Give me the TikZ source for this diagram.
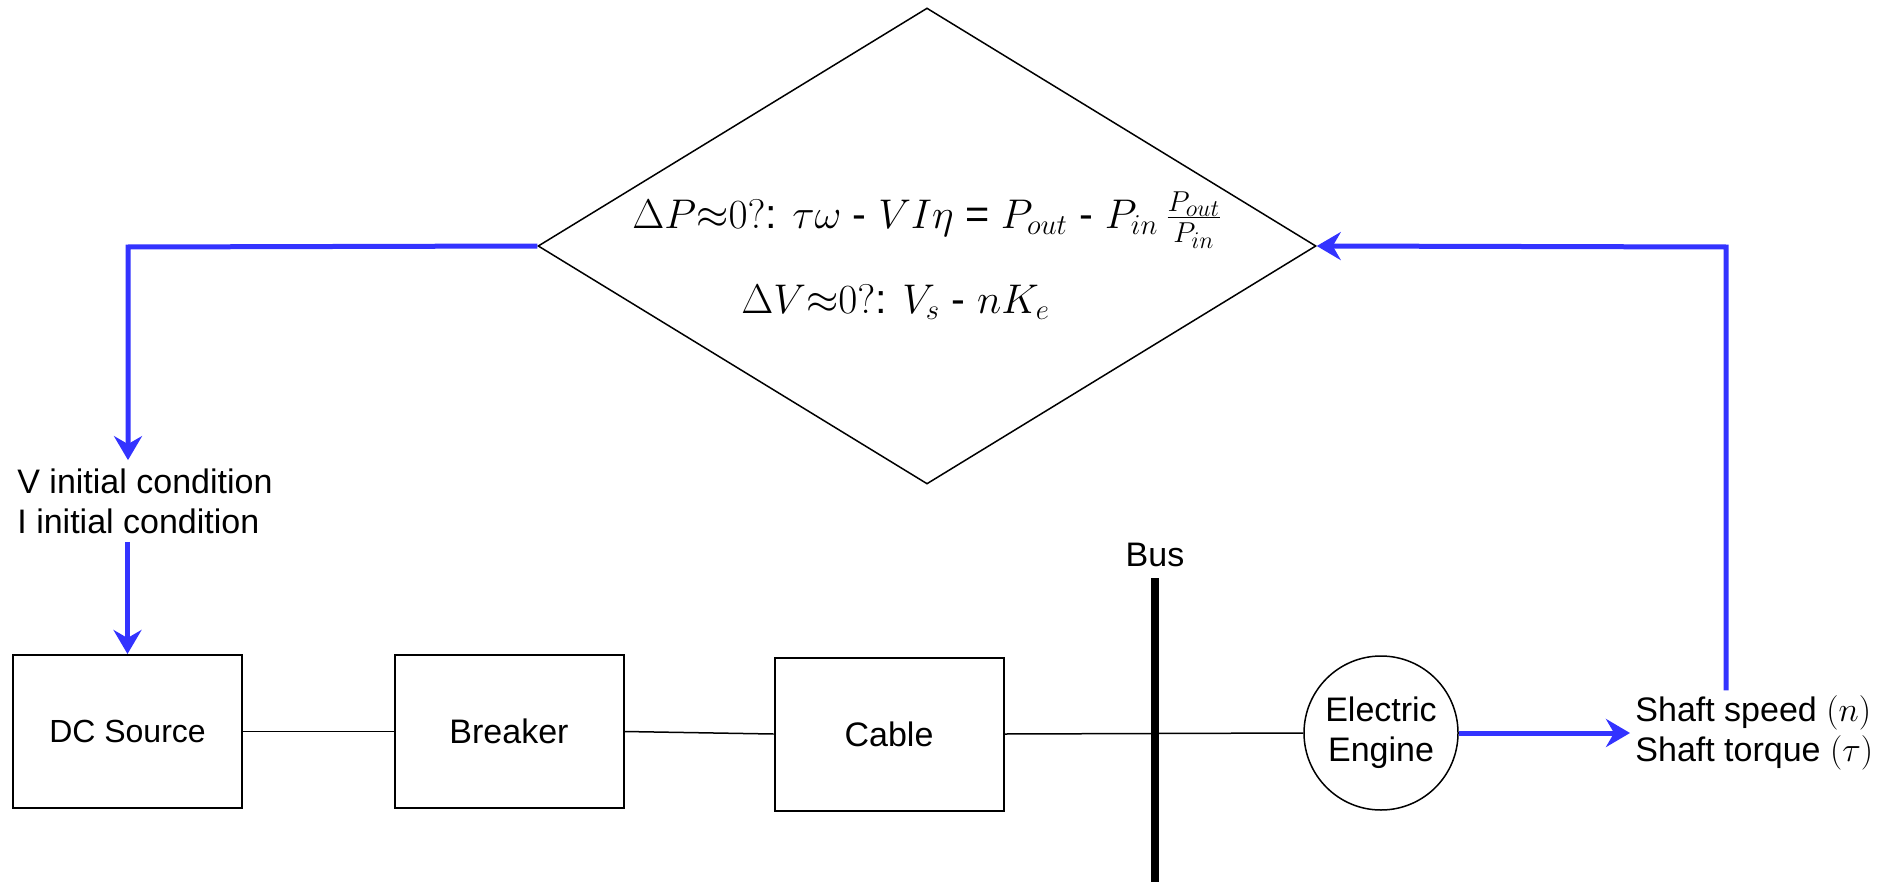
\documentclass[tikz,border=0pt]{standalone}
\usepackage{fontspec}
\usetikzlibrary{arrows.meta,shapes.geometric}
\newfontfamily\arialfont{Liberation Sans}
\definecolor{flowblue}{RGB}{51,51,255}
\tikzset{
  decision/.style={diamond, draw, line width=0.75pt, minimum width=389pt, minimum height=238pt, inner sep=0pt},
  eqtext/.style={inner sep=0pt, font=\arialfont\fontsize{20.74}{25}\selectfont},
  label17/.style={inner sep=4pt, align=left, font=\arialfont\fontsize{17}{20}\selectfont},
  blockbox/.style={draw, line width=1pt, minimum width=114.5pt, minimum height=76.5pt, inner sep=0pt, font=\arialfont\fontsize{17}{20}\selectfont},
  engine/.style={circle, draw, line width=0.75pt, minimum size=77pt, inner sep=0pt, align=center, font=\arialfont\fontsize{17}{20}\selectfont},
  wire/.style={line width=0.75pt},
  busbar/.style={line width=4pt},
  flow/.style={draw=flowblue, line width=2.5pt, -{Stealth[length=12pt,width=14pt,inset=4pt]}}
}
\begin{document}
\begin{tikzpicture}[x=0.5pt,y=-0.5pt]
\useasboundingbox (0,0) rectangle (1893,882);
% decision
\node[decision] (dec) at (927,246) {};
\node[eqtext, anchor=base west] (eq1) at (632,228) {$\Delta P{\approx}0?$: $\tau\omega$ - $VI\eta$ = $P_{out}$ - $P_{in}\,\frac{P_{out}}{P_{in}}$};
\node[eqtext, anchor=base west] (eq2) at (741,313) {$\Delta V{\approx}0?$: $V_s$ - $nK_e$};
% initial condition label
\node[label17, anchor=west] (init) at (9,501) {V initial condition\\I initial condition};
% blocks
\node[blockbox, font=\arialfont\fontsize{16}{20}\selectfont] (dc) at (127.5,731.5) {DC Source};
\node[blockbox] (brk) at (509,731.5) {Breaker};
\node[blockbox] (cab) at (889,734) {Cable};
% bus
\coordinate (bustop) at (1155,578);
\coordinate (busbot) at (1155,882);
\node[label17, inner sep=0pt] (buslbl) at (1155,555) {Bus};
% engine
\node[engine] (eng) at (1381,733) {Electric\\Engine};
% shaft output
\node[label17, inner sep=2.5pt, anchor=west] (shaft) at (1630,733) {Shaft speed $(n)$\\Shaft torque $(\tau)$};
% wires
\draw[busbar] (bustop) -- (busbot);
\draw[wire] (dc.east) -- (brk.west);
\draw[wire] (brk.east) -- (cab.west);
\draw[wire] (cab.east) -- (eng.west);
% flows
\coordinate (lc) at (128,247);
\draw[flow] (dec.west) -- (lc) -- (lc |- init.north);
\draw[flow] (init.south -| dc.north) -- (dc.north);
\draw[flow] (eng.east) -- (eng.east -| shaft.west);
\coordinate (rc) at (1726,247);
\draw[flow] (rc |- shaft.north) -- (rc) -- (dec.east);
\end{tikzpicture}
\end{document}
